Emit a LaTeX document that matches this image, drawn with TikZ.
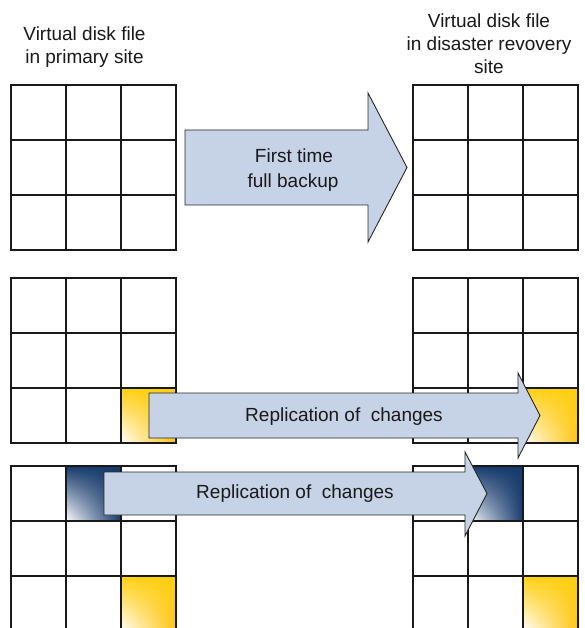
\documentclass[tikz,border=0pt]{standalone}
\usepackage{fontspec}
\setmainfont{Liberation Sans}
\usetikzlibrary{shadings}
\definecolor{gold}{RGB}{255,207,18}
\definecolor{navy}{RGB}{22,58,108}
\definecolor{arrowA}{RGB}{198,210,229}
\definecolor{arrowB}{RGB}{202,205,214}
\newcommand\diskgrid[2]{%
  \foreach \i in {0,1,2,3} {
    \draw[gridline] ({#1+55*\i},#2) -- ({#1+55*\i},{#2+165});
    \draw[gridline] (#1,{#2+55*\i}) -- ({#1+165},{#2+55*\i});
  }}
\newcommand\goldcell[2]{%
  \shade[lower left=white, upper left=gold, upper right=gold, lower right=gold!85!orange] (#1,#2) rectangle ({#1+55},{#2+55});}
\newcommand\navycell[2]{%
  \shade[lower left=white, upper left=navy, upper right=navy, lower right=navy] (#1,#2) rectangle ({#1+55},{#2+55});}
\begin{document}
\begin{tikzpicture}[x=1pt,y=-1pt,
  gridline/.style={line width=1.3pt, draw=black!90, line cap=rect},
  bigarrow/.style={draw=black!85, line width=0.9pt, left color=arrowA, middle color=arrowB, right color=arrowA, line join=miter},
  lbl/.style={font=\fontsize{19}{23}\selectfont, text=black!90, anchor=base, inner sep=0pt}]
\useasboundingbox (0,0) rectangle (585,628);
\clip (0,0) rectangle (585,628);
\fill[white] (0,0) rectangle (585,628);

% titles
\node[lbl] (tl1) at (84.5,40.7) {Virtual disk file};
\node[lbl] (tl2) at (84.5,63.3) {in primary site};
\node[lbl] (tr1) at (489,27.3) {Virtual disk file};
\node[lbl] (tr2) at (489,50.5) {in disaster revovery};
\node[lbl] (tr3) at (489,73.5) {site};

% coloured cells
\goldcell{121}{388}
\goldcell{524}{388}
\navycell{66}{466}
\goldcell{121}{576}
\navycell{468.5}{466}
\goldcell{524}{576}

% grids
\diskgrid{11}{85}
\diskgrid{413}{85}
\diskgrid{11}{278}
\diskgrid{413}{278}
\diskgrid{11}{466}
\diskgrid{413}{466}

% arrows
\path[bigarrow] (185,130) -- (368,130) -- (368,93) -- (407,167.5) -- (368,242) -- (368,205) -- (185,205) -- cycle;
\node[lbl] (a1a) at (294,163) {First time};
\node[lbl] (a1b) at (293,187.5) {full backup};

\path[bigarrow] (149,393) -- (518,393) -- (518,373) -- (540,415.5) -- (518,458) -- (518,438) -- (149,438) -- cycle;
\node[lbl] (a2) at (344,421.7) {Replication of~~changes};

\path[bigarrow] (104,472) -- (465,472) -- (465,452) -- (487,493.5) -- (465,536) -- (465,515) -- (104,515) -- cycle;
\node[lbl] (a3) at (295,498.7) {Replication of~~changes};
\end{tikzpicture}
\end{document}
